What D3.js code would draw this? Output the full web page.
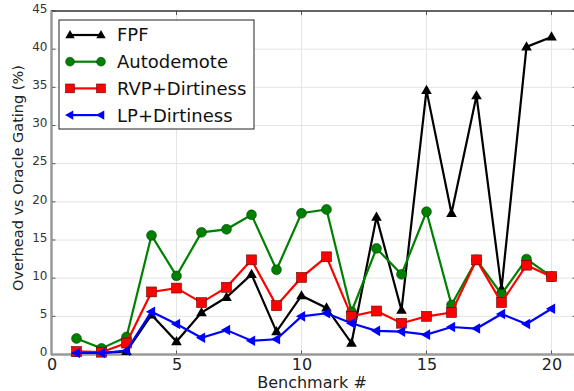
<!DOCTYPE html>
<html><head><meta charset="utf-8">
<script src="https://cdn.jsdelivr.net/npm/d3@7"></script>
<style>body{margin:0;background:#fff;} svg{display:block;font-family:"DejaVu Sans",sans-serif;}</style>
</head><body>
<script>
const benchmarks = d3.range(1, 21);
const fpf        = [0.2,0.2,0.4,5.2,1.7,5.5,7.5,10.5,3.0,7.7,6.1,1.5,18.0,5.8,34.6,18.5,33.9,8.6,40.3,41.6];
const autodemote = [2.1,0.8,2.3,15.6,10.3,16.0,16.4,18.3,11.1,18.5,19.0,5.6,13.9,10.5,18.7,6.5,12.4,7.9,12.5,10.2];
const rvpDirt    = [0.4,0.3,1.5,8.2,8.7,6.8,8.8,12.4,6.4,10.1,12.8,5.0,5.7,4.1,5.0,5.5,12.4,6.8,11.7,10.2];
const lpDirt     = [0.2,0.2,0.5,5.6,4.0,2.2,3.2,1.8,2.0,5.0,5.4,4.1,3.1,3.0,2.6,3.6,3.4,5.3,4.0,6.0];
const xTicks = [0,5,10,15,20];
const yTicks = [0,5,10,15,20,25,30,35,40,45];
const seriesNames = ["FPF","Autodemote","RVP+Dirtiness","LP+Dirtiness"];
const seriesColors = ["#000000","#008000","#ff0000","#0000ff"];
const seriesMarkers = ["triUp","circle","square","triLeft"];
const seriesData = [fpf, autodemote, rvpDirt, lpDirt];

const W = 574, H = 391;
const m = {left:51.5, top:11, right:576.5, bottom:354.5};
const svg = d3.select("body").append("svg").attr("width",W).attr("height",H);
const x = d3.scaleLinear().domain([0,21]).range([m.left,m.right]);
const y = d3.scaleLinear().domain([0,45]).range([m.bottom,m.top]);

// grid
const g = svg.append("g");
g.selectAll(".vg").data(xTicks.filter(d=>d>0)).join("line")
  .attr("x1",d=>x(d)).attr("x2",d=>x(d)).attr("y1",m.top).attr("y2",m.bottom)
  .attr("stroke","#e4e4e4").attr("stroke-width",1);
g.selectAll(".hg").data(yTicks.filter(d=>d>0&&d<45)).join("line")
  .attr("y1",d=>y(d)).attr("y2",d=>y(d)).attr("x1",m.left).attr("x2",m.right)
  .attr("stroke","#e4e4e4").attr("stroke-width",1);

// axes
const xAxis = d3.axisBottom(x).tickValues(xTicks).tickSize(0).tickPadding(4);
const xa = svg.append("g").attr("transform",`translate(0,${m.bottom})`).call(xAxis);
xa.select(".domain").remove();
xa.selectAll("text").attr("font-size",16).attr("fill","#222").attr("font-family","DejaVu Sans");
const yAxis = d3.axisLeft(y).tickValues(yTicks).tickSize(0).tickPadding(4);
const ya = svg.append("g").attr("transform",`translate(${m.left},0)`).call(yAxis);
ya.select(".domain").remove();
ya.selectAll("text").attr("font-size",12).attr("fill","#333").attr("font-family","DejaVu Sans")
  .attr("dy","0.1em");

// inward ticks
const tl = 4;
const tk = svg.append("g").attr("stroke","#555").attr("stroke-width",1);
xTicks.forEach(d=>{
  tk.append("line").attr("x1",x(d)).attr("x2",x(d)).attr("y1",m.bottom).attr("y2",m.bottom-tl);
  tk.append("line").attr("x1",x(d)).attr("x2",x(d)).attr("y1",m.top).attr("y2",m.top+tl);
});
yTicks.forEach(d=>{
  tk.append("line").attr("x1",m.left).attr("x2",m.left+tl).attr("y1",y(d)).attr("y2",y(d));
  tk.append("line").attr("x1",m.right).attr("x2",m.right-tl).attr("y1",y(d)).attr("y2",y(d));
});

// spines
svg.append("rect").attr("x",m.left).attr("y",m.top).attr("width",m.right-m.left).attr("height",m.bottom-m.top)
  .attr("fill","none").attr("stroke","#333").attr("stroke-width",1.5);
svg.append("line").attr("x1",m.left).attr("x2",m.left).attr("y1",m.top).attr("y2",m.bottom)
  .attr("stroke","#999").attr("stroke-width",2);
svg.append("line").attr("x1",m.left).attr("x2",m.right).attr("y1",m.bottom).attr("y2",m.bottom)
  .attr("stroke","#999").attr("stroke-width",2);

// labels
svg.append("text").attr("x",(m.left+m.right)/2-2).attr("y",388).attr("text-anchor","middle")
  .attr("font-size",16).attr("fill","#222").text("Benchmark #");
svg.append("text").attr("transform",`translate(23,178) rotate(-90)`)
  .attr("text-anchor","middle").attr("font-size",14.5).attr("fill","#222").text("Overhead vs Oracle Gating (%)");

function marker(sel, type, color, s){
  if(type==="circle"){
    sel.append("circle").attr("r",s*0.55).attr("fill",color).attr("stroke","#003000").attr("stroke-width",0.5);
  } else if(type==="square"){
    sel.append("rect").attr("x",-s*0.55).attr("y",-s*0.55).attr("width",s*1.1).attr("height",s*1.1)
      .attr("fill",color).attr("stroke","#600").attr("stroke-width",0.6);
  } else if(type==="triUp"){
    const r=s*0.62;
    sel.append("path").attr("d",`M0,${-r}L${r*0.95},${r*0.65}L${-r*0.95},${r*0.65}Z`).attr("fill",color);
  } else if(type==="triLeft"){
    const r=s*0.62;
    sel.append("path").attr("d",`M${-r},0L${r*0.65},${-r*0.95}L${r*0.65},${r*0.95}Z`).attr("fill",color);
  }
}

const plot = svg.append("g");
const line = d3.line().x((d,i)=>x(benchmarks[i])).y(d=>y(d));
seriesData.forEach((vals,k)=>{
  plot.append("path").datum(vals).attr("d",line).attr("fill","none")
    .attr("stroke",seriesColors[k]).attr("stroke-width",2.2).attr("stroke-linejoin","miter");
  plot.selectAll(null).data(vals).join("g")
    .attr("transform",(d,i)=>`translate(${x(benchmarks[i])},${y(d)})`)
    .each(function(){ marker(d3.select(this), seriesMarkers[k], seriesColors[k], 9); });
});

// legend
const lg = svg.append("g");
lg.append("rect").attr("x",59).attr("y",20).attr("width",195).attr("height",109)
  .attr("fill","#fff").attr("stroke","#222").attr("stroke-width",1);
seriesNames.forEach((n,k)=>{
  const yy = 35 + k*26.7;
  lg.append("line").attr("x1",70).attr("x2",101).attr("y1",yy).attr("y2",yy)
    .attr("stroke",seriesColors[k]).attr("stroke-width",2.2);
  [70,101].forEach(xx=>{
    const gg = lg.append("g").attr("transform",`translate(${xx},${yy})`);
    marker(gg, seriesMarkers[k], seriesColors[k], 8);
  });
  lg.append("text").attr("x",117).attr("y",yy).attr("dy","0.36em").attr("font-size",18)
    .attr("fill","#111").text(n);
});
</script>
</body></html>
